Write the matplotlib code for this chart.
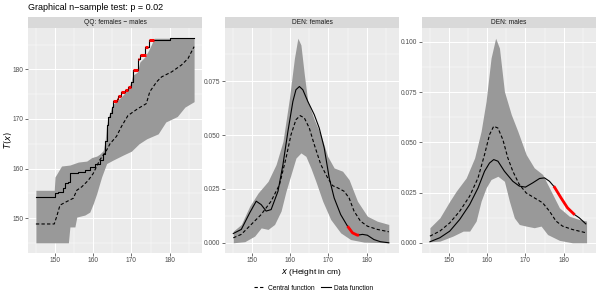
import matplotlib
matplotlib.use('Agg')
import matplotlib.pyplot as plt
from matplotlib.lines import Line2D
from matplotlib.ticker import MultipleLocator
import numpy as np

plt.rcParams['font.family'] = ['Liberation Sans', 'DejaVu Sans']

# ---------------- data ----------------
title = "Graphical n\u2212sample test: p = 0.02"
strip_labels = ["QQ: females \u2212 males", "DEN: females", "DEN: males"]
x_ticks = [150, 160, 170, 180]

# Panel 1: QQ
qq_x = [145, 150, 150.9, 152.2, 152.6, 153.5, 153.9, 156.1, 157.8, 159.1, 160.4, 161.7, 162.6, 163.1,
        163.5, 163.9, 164.4, 164.8, 165.2, 166.1, 166.5, 167.2, 168.3, 169.0, 169.8, 170.3, 171.6,
        172.2, 173.5, 174.6, 180.0, 186.4]
qq_y = [154.3, 155.0, 155.3, 156.0, 157.0, 157.3, 159.1, 159.3, 159.7, 160.3, 161.0, 161.7, 163.0, 165.5,
        168.7, 170.4, 171.3, 172.4, 173.6, 174.1, 174.6, 175.4, 175.8, 176.4, 177.5, 179.9, 182.2,
        183.0, 184.6, 185.9, 186.3, 186.3]
qq_red_x0 = [165.2, 166.1, 166.5, 167.2, 168.3, 169.0, 170.3, 171.6, 172.2, 173.5, 174.6]
qq_red_x1 = [166.1, 166.5, 167.2, 168.3, 169.0, 169.8, 171.6, 172.0, 173.7, 174.4, 175.9]
qq_red_y = [173.6, 174.1, 174.6, 175.4, 175.8, 176.4, 179.9, 182.2, 183.0, 184.6, 185.9]
qq_c_x = [145, 149.8, 150.4, 151.3, 153.0, 154.8, 155.7, 157.0, 158.7, 160.0, 161.7, 163.5, 164.4,
          166.1, 167.4, 169.1, 171.7, 173.9, 174.8, 176.6, 177.9, 180.5, 183.1, 184.8, 186.4]
qq_c_y = [148.8, 148.8, 150.2, 152.6, 153.3, 154.0, 155.6, 156.3, 157.6, 159.0, 161.7, 163.7, 165.0,
          166.5, 168.5, 170.7, 172.1, 173.1, 175.5, 177.5, 178.5, 179.5, 180.9, 182.2, 184.6]
qq_up_x = [145, 149.8, 150, 151.7, 153.9, 156.1, 158.3, 159.6, 160.9, 161.7, 162.6, 163.1, 163.5,
           163.9, 164.4, 164.8, 165.2, 166.0, 167.0, 168.0, 169.0, 169.8, 170.3, 171.6, 172.2, 173.5,
           174.6, 175.5, 176.0, 186.4]
qq_up_y = [155.6, 155.6, 158.3, 160.5, 160.7, 161.3, 161.5, 162.2, 162.5, 162.9, 163.6, 165.5, 168.7,
           170.4, 171.3, 172.4, 173.0, 173.5, 174.2, 175.0, 176.0, 177.3, 178.8, 179.5, 181.5, 182.5,
           184.0, 185.5, 186.3, 186.3]
qq_lo_x = [145, 153.5, 153.9, 155.2, 155.7, 157.8, 159.1, 160, 160.9, 161.7, 162.2, 163.5, 165.2,
           167.8, 170, 172, 174, 177, 179, 182, 184, 186.4]
qq_lo_y = [145, 145, 148.2, 148.2, 150.2, 150.6, 151.2, 152.9, 154.9, 157, 158.3, 161, 161.7,
           162.7, 163.5, 165, 166, 167, 169.4, 170.5, 172.4, 173.5]

# Panel 2: density, females
f_x = [145.1, 147.2, 149.4, 151.1, 152.4, 153.7, 155.0, 156.8, 158.1, 159.4, 160.7, 161.5, 162.4,
       163.3, 164.6, 166.3, 167.6, 168.9, 170.2, 171.5, 173.2, 175.0, 176.3, 177.6, 178.9, 180.2,
       181.9, 183.6, 185.8]
f_data = [0.0043, 0.0062, 0.0139, 0.0193, 0.0177, 0.0147, 0.0154, 0.0239, 0.0363, 0.0517, 0.0656,
          0.0710, 0.0725, 0.0710, 0.0656, 0.0594, 0.0532, 0.0440, 0.0301, 0.0208, 0.0131, 0.0077,
          0.0046, 0.0035, 0.0039, 0.0035, 0.0015, 0.0005, 0.0]
f_red_range = [175.0, 178.0]
f_cx = [145.1, 147.2, 149.8, 152.4, 155.0, 157.2, 158.9, 160.2, 161.5, 162.6, 163.7, 165.0, 166.3,
        168.0, 169.8, 171.1, 172.4, 174.1, 175.4, 176.7, 178.4, 180.2, 182.8, 185.8]
f_central = [0.0023, 0.0039, 0.0085, 0.0131, 0.0193, 0.0270, 0.0393, 0.0501, 0.0571, 0.0590, 0.0579,
             0.0532, 0.0455, 0.0363, 0.0301, 0.0265, 0.0255, 0.0239, 0.0208, 0.0147, 0.0100, 0.0077,
             0.0062, 0.0051]
f_up_x = [145.1, 147.2, 149.4, 151.6, 154.2, 156.3, 158.1, 159.8, 161.1, 162.0, 162.8, 163.7, 164.6,
          166.3, 168.0, 169.8, 171.5, 173.7, 175.4, 177.6, 180.2, 182.8, 185.8]
f_up = [0.0054, 0.0085, 0.0170, 0.0231, 0.0285, 0.0363, 0.0470, 0.0671, 0.0856, 0.0949, 0.0918,
        0.0779, 0.0656, 0.0571, 0.0501, 0.0401, 0.0347, 0.0332, 0.0293, 0.0193, 0.0123, 0.0100, 0.0085]
f_lo_x = [145.1, 148.1, 150.7, 152.4, 154.2, 155.9, 157.6, 158.9, 160.2, 161.5, 162.8, 164.1, 165.4,
          166.7, 168.5, 170.6, 173.2, 175.8, 179.3, 185.8]
f_lo = [0.0, 0.0005, 0.0031, 0.0069, 0.0062, 0.0085, 0.0147, 0.0239, 0.0316, 0.0393, 0.0417, 0.0401,
        0.0347, 0.0285, 0.0193, 0.0108, 0.0046, 0.0015, 0.0003, 0.0]

# Panel 3: density, males
m_x = [145.0, 147.6, 150.2, 152.8, 155.4, 157.6, 159.3, 160.6, 161.7, 162.8, 164.5, 166.7, 168.4,
       170.0, 171.9, 173.7, 175.0, 176.3, 177.6, 179.3, 181.0, 182.8, 184.1, 185.8]
m_data = [0.0005, 0.0025, 0.0058, 0.0116, 0.0190, 0.0273, 0.0356, 0.0397, 0.0414, 0.0406, 0.0356,
          0.0306, 0.0282, 0.0277, 0.0298, 0.0320, 0.0323, 0.0306, 0.0277, 0.0224, 0.0174, 0.0141,
          0.0124, 0.0094]
m_red_range = [177.4, 182.9]
m_cx = [145.0, 147.6, 150.2, 152.8, 155.4, 157.6, 159.3, 160.6, 161.7, 162.8, 164.1, 165.4, 166.7,
        168.4, 170.2, 172.3, 174.5, 176.3, 178.0, 179.7, 182.3, 185.8]
m_central = [0.0033, 0.0058, 0.0099, 0.0157, 0.0232, 0.0323, 0.0439, 0.0538, 0.0580, 0.0571, 0.0513,
             0.0422, 0.0356, 0.0290, 0.0248, 0.0224, 0.0199, 0.0157, 0.0108, 0.0083, 0.0066, 0.0050]
m_up_x = [145.0, 147.6, 150.2, 151.9, 154.5, 156.7, 158.4, 159.7, 161.0, 162.2, 163.2, 164.5, 166.3,
          168.0, 170.2, 172.3, 174.5, 176.7, 178.9, 181.5, 184.1, 186.0]
m_up = [0.0075, 0.0124, 0.0207, 0.0257, 0.0323, 0.0422, 0.0555, 0.0704, 0.0919, 0.1018, 0.0969,
        0.0753, 0.0638, 0.0555, 0.0439, 0.0373, 0.0340, 0.0257, 0.0174, 0.0132, 0.0116, 0.0108]
m_lo_x = [145.0, 147.6, 151.0, 153.7, 155.4, 157.1, 158.4, 159.7, 161.0, 162.8, 164.5, 165.8, 167.1,
          168.4, 170.2, 172.3, 174.1, 175.8, 178.9, 182.3, 186.0]
m_lo = [0.0005, 0.0008, 0.0033, 0.0058, 0.0058, 0.0108, 0.0207, 0.0273, 0.0315, 0.0331, 0.0306,
        0.0207, 0.0124, 0.0091, 0.0083, 0.0075, 0.0083, 0.0041, 0.0012, 0.0, 0.0]

# ---------------- layout ----------------
W, H = 600, 300
fig = plt.figure(figsize=(6, 3), dpi=100)
fig.patch.set_facecolor('white')

def rect(x0, x1, y0, y1):
    return [x0 / W, 1 - y1 / H, (x1 - x0) / W, (y1 - y0) / H]

panels = [(28, 202), (225, 399), (422, 596)]
ptop, pbot, stop = 28, 253, 17
BAND = '#999999'
TICKFS = 4.8

axes = []
for i, (x0, x1) in enumerate(panels):
    ax = fig.add_axes(rect(x0, x1, ptop, pbot))
    ax.set_facecolor('#EBEBEB')
    for s in ax.spines.values():
        s.set_visible(False)
    ax.set_axisbelow(True)
    ax.xaxis.set_major_locator(plt.FixedLocator(x_ticks))
    ax.xaxis.set_minor_locator(plt.FixedLocator([145, 155, 165, 175, 185]))
    ax.grid(which='major', color='white', lw=0.75)
    ax.grid(which='minor', color='white', lw=0.35)
    ax.tick_params(which='major', length=2, width=0.5, color='#333333', labelsize=TICKFS,
                   labelcolor='#4D4D4D', pad=1.2)
    ax.tick_params(which='minor', length=0)
    ax.set_xlim(142.93, 188.47)
    sax = fig.add_axes(rect(x0, x1, stop, ptop))
    sax.set_facecolor('#D9D9D9')
    sax.set_xticks([]); sax.set_yticks([])
    for s in sax.spines.values():
        s.set_visible(False)
    sax.text(0.5, 0.5, strip_labels[i], ha='center', va='center', fontsize=TICKFS, color='#1A1A1A',
             transform=sax.transAxes)
    axes.append(ax)

# Panel 1
ax = axes[0]
gx = np.union1d(qq_up_x, qq_lo_x)
ax.fill_between(gx, np.interp(gx, qq_lo_x, qq_lo_y), np.interp(gx, qq_up_x, qq_up_y),
                color=BAND, lw=0)
ax.plot(qq_c_x, qq_c_y, color='black', lw=0.8, ls=(0, (3, 2)))
ax.step(qq_x, qq_y, where='post', color='black', lw=0.8)
ax.hlines(qq_red_y, qq_red_x0, qq_red_x1, color='red', lw=2.2)
ax.set_ylim(142.94, 188.37)
ax.yaxis.set_major_locator(plt.FixedLocator([150, 160, 170, 180]))
ax.yaxis.set_minor_locator(plt.FixedLocator([145, 155, 165, 175, 185]))

# Density panels
for ax, (ux, uy, lx, ly, cx, cy, dx, dy, rr, ymax, yt) in zip(axes[1:], [
        (f_up_x, f_up, f_lo_x, f_lo, f_cx, f_central, f_x, f_data, f_red_range, 0.0949,
         [0.0, 0.025, 0.05, 0.075]),
        (m_up_x, m_up, m_lo_x, m_lo, m_cx, m_central, m_x, m_data, m_red_range, 0.1018,
         [0.0, 0.025, 0.05, 0.075, 0.1])]):
    gx = np.union1d(ux, lx)
    ax.fill_between(gx, np.interp(gx, lx, ly), np.interp(gx, ux, uy), color=BAND, lw=0)
    ax.plot(cx, cy, color='black', lw=0.8, ls=(0, (3, 2)))
    ax.plot(dx, dy, color='black', lw=0.8)
    rx = np.linspace(rr[0], rr[1], 30)
    ax.plot(rx, np.interp(rx, dx, dy), color='red', lw=2.0, solid_capstyle='butt')
    ax.set_ylim(-0.05 * ymax, 1.05 * ymax)
    ax.yaxis.set_major_locator(plt.FixedLocator(yt))
    ax.yaxis.set_minor_locator(MultipleLocator(0.0125))
    ax.set_yticklabels(['%.3f' % v for v in yt])

fig.text(7.5 / W, 1 - 140 / H, r'$T(x)$', rotation=90, ha='center', va='center', fontsize=6,
         color='black')
axes[1].set_xlabel(r'$x$ (Height in cm)', fontsize=6, color='black', labelpad=2)

fig.text(28 / W, 1 - 8 / H, title, ha='left', va='center', fontsize=6.5, color='black')

handles = [Line2D([], [], color='black', lw=0.8, ls=(0, (3, 2))),
           Line2D([], [], color='black', lw=0.8)]
fig.legend(handles, ['Central function', 'Data function'], loc='center',
           bbox_to_anchor=(314 / W, 1 - 288 / H), ncol=2, frameon=False, fontsize=TICKFS,
           handlelength=1.5, columnspacing=1.0, handletextpad=0.5)

fig.savefig('out.png', dpi=100)
